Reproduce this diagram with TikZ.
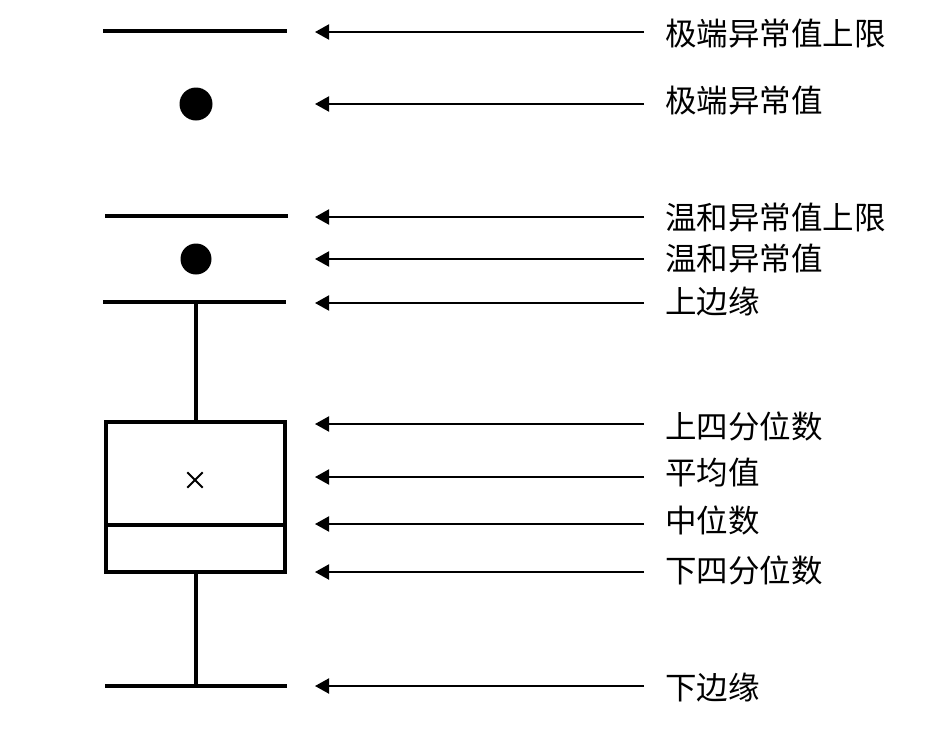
\documentclass[tikz,border=0pt]{standalone}
\usepackage{fontspec}
\newfontfamily\cjk{Noto Sans CJK SC}
\usetikzlibrary{arrows.meta}
\begin{document}
\begin{tikzpicture}[x=1pt,y=-1pt,
  bar/.style={line width=4.2pt},
  boxline/.style={line width=3.6pt},
  whisk/.style={line width=3.4pt},
  pointer/.style={line width=2pt,-{Triangle[length=14pt,width=15pt]}},
  lbl/.style={anchor=west,inner sep=0pt,font=\cjk\fontsize{31.5}{34}\selectfont},
  dot/.style={circle,fill=black,inner sep=0pt}]
\useasboundingbox (0,0) rectangle (945,732);
% box plot elements
\coordinate (e1) at (103,31); \coordinate (e2) at (287,31);
\draw[bar] (e1) -- (e2);
\node[dot,minimum size=33pt] (d1) at (196,104) {};
\coordinate (m1) at (105,216); \coordinate (m2) at (288,216);
\draw[bar] (m1) -- (m2);
\node[dot,minimum size=31pt] (d2) at (196,259) {};
\coordinate (u1) at (103,302); \coordinate (u2) at (286,302);
\draw[bar] (u1) -- (u2);
\coordinate (uw) at (196,302); \coordinate (bt) at (196,422);
\draw[whisk] (uw) -- (bt);
\draw[boxline] (106,422) rectangle (285,572);
\coordinate (md1) at (106,525); \coordinate (md2) at (285,525);
\draw[boxline] (md1) -- (md2);
\node[inner sep=0pt,minimum size=15pt] (mean) at (195,480) {};
\draw[line width=2pt] (mean.south west) -- (mean.north east) (mean.north west) -- (mean.south east);
\coordinate (bb) at (196,572); \coordinate (lw) at (196,686);
\draw[whisk] (bb) -- (lw);
\coordinate (l1) at (105,686); \coordinate (l2) at (287,686);
\draw[bar] (l1) -- (l2);
% arrows
\foreach \n/\y in {a1/32,a2/104,a3/217,a4/259,a5/303,a6/424,a7/477,a8/524,a9/572,a10/686}{
  \coordinate (\n t) at (644,\y);
  \coordinate (\n h) at (315,\y);
  \draw[pointer] (\n t) -- (\n h);
}
% labels
\node[lbl] (t1) at (665,34) {极端异常值上限};
\node[lbl] (t2) at (665,101) {极端异常值};
\node[lbl] (t3) at (665,218) {温和异常值上限};
\node[lbl] (t4) at (665,259) {温和异常值};
\node[lbl] (t5) at (665,302) {上边缘};
\node[lbl] (t6) at (665,426) {上四分位数};
\node[lbl] (t7) at (665,473) {平均值};
\node[lbl] (t8) at (665,520) {中位数};
\node[lbl] (t9) at (665,570) {下四分位数};
\node[lbl] (t10) at (665,688) {下边缘};
\end{tikzpicture}
\end{document}
